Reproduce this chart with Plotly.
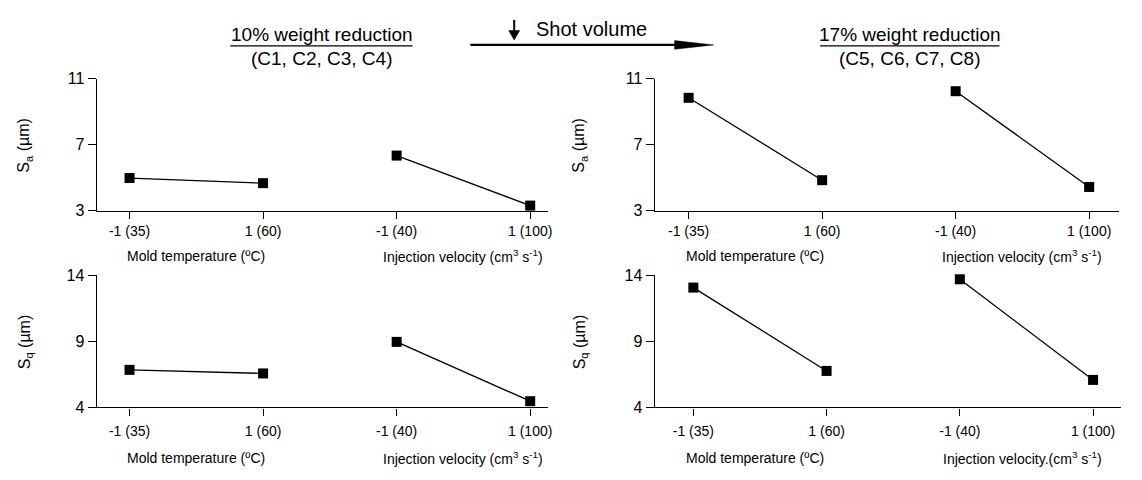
import plotly.graph_objects as go

# The page adds an 8px body margin; size the figure so it fills the 1142x480 window.
OFF = 8
W, H = 1142 - OFF, 480 - OFF

# ---------------- data ----------------
tick_vals = [0, 1, 2, 3]
tick_text = ["-1 (35)", "1 (60)", "-1 (40)", "1 (100)"]
mold_x = [0, 1]
inj_x = [2, 3]

# 10% weight reduction (C1-C4)
sa_10_mold = [4.98, 4.67]
sa_10_inj = [6.34, 3.31]
sq_10_mold = [6.84, 6.57]
sq_10_inj = [8.96, 4.47]

# 17% weight reduction (C5-C8)
sa_17_mold = [9.84, 4.85]
sa_17_inj = [10.24, 4.44]
sq_17_mold = [13.07, 6.76]
sq_17_inj = [13.70, 6.08]

sa_ticks = [3, 7, 11]
sq_ticks = [4, 9, 14]

FONT = "Liberation Sans, Arial, sans-serif"


def px(x):
    return (x - OFF) / W


def py(y):
    return 1 - (y - OFF) / H


fig = go.Figure()

panels = [
    ("", (97, 550), (73, 210), [-0.246, 3.134], [3, 11], sa_ticks, sa_10_mold, sa_10_inj, 0),
    ("2", (657, 1123), (73, 210), [-0.254, 3.224], [3, 11], sa_ticks, sa_17_mold, sa_17_inj, 0),
    ("3", (97, 550), (277, 414), [-0.246, 3.134], [4, 14], sq_ticks, sq_10_mold, sq_10_inj, 4),
    ("4", (657, 1125), (277, 414), [-0.29, 3.21], [4, 14], sq_ticks, sq_17_mold, sq_17_inj, 4),
]

layout_axes = {}
for suf, xd, yd, xr, yr, yt, mold, inj, standoff in panels:
    xa = "x" + suf
    ya = "y" + suf
    for xs, ys in ((mold_x, mold), (inj_x, inj)):
        fig.add_trace(go.Scatter(
            x=xs, y=ys, xaxis=xa, yaxis=ya, mode="lines+markers",
            line=dict(color="black", width=1.3),
            marker=dict(symbol="square", size=10, color="black"),
            showlegend=False, cliponaxis=False,
        ))
    layout_axes["xaxis" + suf] = dict(
        domain=[px(xd[0]), px(xd[1])], range=xr, anchor=ya,
        tickmode="array", tickvals=tick_vals, ticktext=tick_text,
        showline=True, linecolor="black", linewidth=1.3,
        ticks="outside", ticklen=7, tickwidth=1.3, tickcolor="black",
        ticklabelstandoff=standoff,
        showgrid=False, zeroline=False,
        tickfont=dict(family=FONT, size=14, color="black"),
    )
    layout_axes["yaxis" + suf] = dict(
        domain=[py(yd[1]), py(yd[0])], range=yr, anchor=xa,
        tickmode="array", tickvals=yt,
        showline=True, linecolor="black", linewidth=1.3,
        ticks="outside", ticklen=8, tickwidth=1.3, tickcolor="black",
        showgrid=False, zeroline=False,
        tickfont=dict(family=FONT, size=16, color="black"),
    )

annotations = []


def txt(x, y, text, size, angle=0):
    annotations.append(dict(
        x=px(x), y=py(y), xref="paper", yref="paper", text=text,
        showarrow=False, textangle=angle, xanchor="center", yanchor="middle",
        font=dict(family=FONT, size=size, color="black"),
    ))


# Header texts
txt(323, 27, "10% weight reduction", 19)
txt(323, 52, "(C1, C2, C3, C4)", 19)
txt(913, 27, "17% weight reduction", 19)
txt(913, 52, "(C5, C6, C7, C8)", 19)
txt(594, 21, "Shot volume", 20)

# Y axis titles
for yc, lab in ((141.5, "S<sub>a</sub> (µm)"), (345.5, "S<sub>q</sub> (µm)")):
    txt(25, yc, lab, 16, -90)
    txt(582, yc, lab, 16, -90)

# X axis titles
for yc, right_inj in ((257, "Injection velocity (cm<sup>3</sup> s<sup>-1</sup>)"),
                      (466, "Injection velocity.(cm<sup>3</sup> s<sup>-1</sup>)")):
    txt(197, yc, "Mold temperature (ºC)", 14)
    txt(465, yc, "Injection velocity (cm<sup>3</sup> s<sup>-1</sup>)", 14)
    txt(758, yc, "Mold temperature (ºC)", 14)
    txt(1026, yc, right_inj, 14)

line_k = dict(color="black", width=1.3)
shapes = [
    # underlines
    dict(type="line", xref="paper", yref="paper", x0=px(231), x1=px(414), y0=py(39), y1=py(39), line=line_k),
    dict(type="line", xref="paper", yref="paper", x0=px(823), x1=px(1003), y0=py(39), y1=py(39), line=line_k),
    # shot-volume arrow
    dict(type="line", xref="paper", yref="paper", x0=px(472), x1=px(690), y0=py(38), y1=py(38),
         line=dict(color="black", width=2.2)),
    dict(type="path", xref="paper", yref="paper",
         path=f"M {px(677)},{py(33.5)} L {px(716)},{py(38)} L {px(677)},{py(42.5)} Z",
         fillcolor="black", line=dict(color="black", width=0.5)),
    # small down arrow
    dict(type="line", xref="paper", yref="paper", x0=px(516), x1=px(516), y0=py(12), y1=py(26),
         line=dict(color="black", width=2)),
    dict(type="path", xref="paper", yref="paper",
         path=f"M {px(510.5)},{py(23)} L {px(521.5)},{py(23)} L {px(516)},{py(33)} Z",
         fillcolor="black", line=dict(color="black", width=0.5)),
]

fig.update_layout(
    width=W, height=H, margin=dict(l=0, r=0, t=0, b=0),
    paper_bgcolor="white", plot_bgcolor="white",
    annotations=annotations, shapes=shapes, showlegend=False,
    **layout_axes,
)

fig.write_html("out.html")
